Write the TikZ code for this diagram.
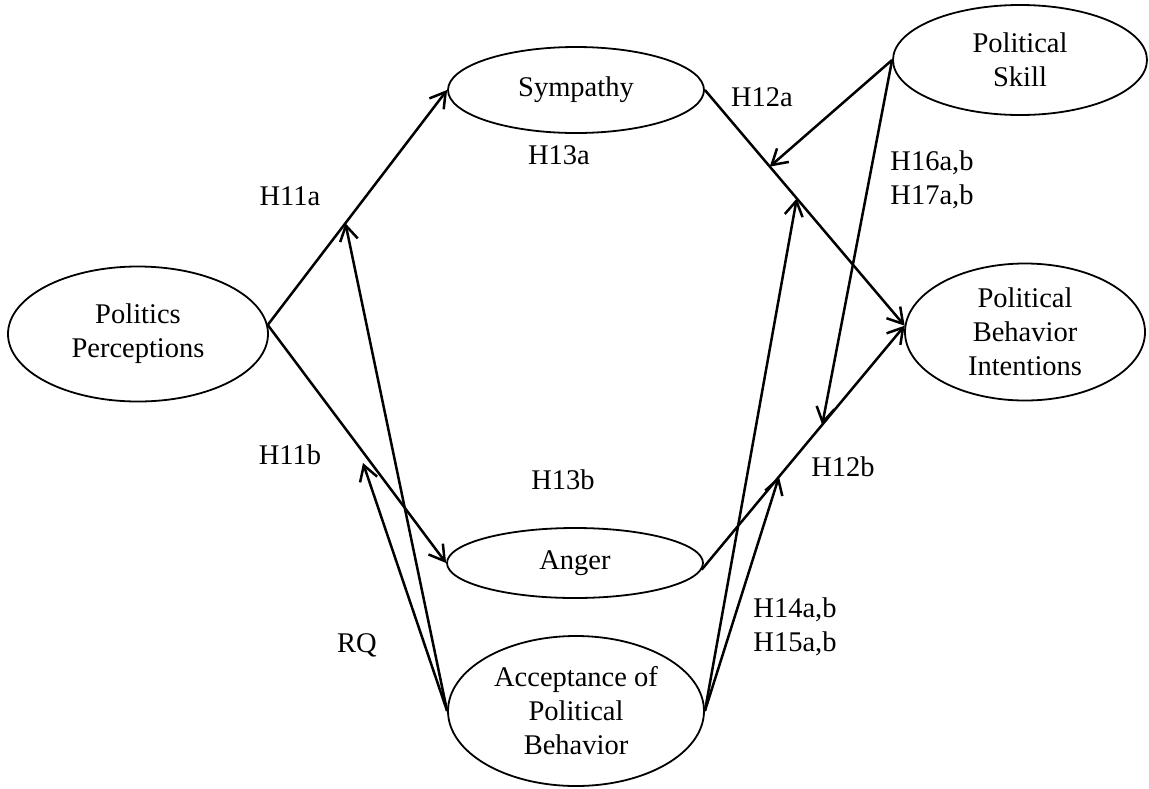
\documentclass[tikz,border=0pt]{standalone}
\usepackage{fontspec}
\setmainfont{Liberation Serif}
\usetikzlibrary{shapes.geometric,arrows.meta,calc}

\tikzset{
  construct/.style={draw, ellipse, line width=1.8pt, inner sep=0pt, align=center,
    font=\fontsize{28.5}{34}\selectfont},
  path/.style={line width=2.5pt, -{Straight Barb[length=15pt,width=18pt,line width=2.5pt]}},
  lbl/.style={font=\fontsize{28.5}{34}\selectfont, align=left, inner sep=0pt}
}

\begin{document}
\begin{tikzpicture}[x=1pt,y=-1pt]
\useasboundingbox (0,0) rectangle (1149,788);

% constructs
\node[construct, minimum width=260pt, minimum height=135pt] (pp)    at (138,334) {Politics\\Perceptions};
\node[construct, minimum width=256pt, minimum height=86pt]  (sym)   at (576,90)  {Sympathy};
\node[construct, minimum width=256pt, minimum height=70pt]  (anger) at (575,563) {Anger};
\node[construct, minimum width=256pt, minimum height=150pt] (acc)   at (576,711) {Acceptance of\\Political\\Behavior};
\node[construct, minimum width=254pt, minimum height=110pt] (ps)    at (1020,60) {Political\\Skill};
\node[construct, minimum width=240pt, minimum height=137pt] (pbi)   at (1025,332) {Political\\Behavior\\Intentions};

% points on the paths where moderators meet them
\coordinate (a1) at ($(pp.4)!0.433!(sym.west)$);
\coordinate (b1) at ($(sym.east)!0.325!(pbi.177)$);
\coordinate (b2) at ($(sym.east)!0.46!(pbi.177)$);
\coordinate (c1) at ($(anger.-3)!0.381!(pbi.177)$);
\coordinate (c2) at ($(anger.-3)!0.594!(pbi.177)$);
\coordinate (rq) at (363,463);

% main paths
\draw[path] (pp.4) -- (sym.west);
\draw[path] (pp.4) -- (anger.west);
\draw[path] (sym.east) -- (pbi.177);
\draw[path] (anger.-3) -- (pbi.177);

% moderating paths
\draw[path] (acc.west) -- (a1);
\draw[path] (acc.west) -- (rq);
\draw[path] (acc.east) -- (b2);
\draw[path] (acc.east) -- (c1);
\draw[path] (ps.west) -- (b1);
\draw[path] (ps.west) -- (c2);

% hypothesis labels
\node[lbl] (h11a) at (290,196) {H11a};
\node[lbl] (h11b) at (290,455) {H11b};
\node[lbl] (h13a) at (559,155) {H13a};
\node[lbl] (h13b) at (563,480) {H13b};
\node[lbl] (h12a) at (762,97)  {H12a};
\node[lbl] (h12b) at (843,467) {H12b};
\node[lbl] (h16)  at (932,180) {H16a,b\\H17a,b};
\node[lbl] (h14)  at (795,627) {H14a,b\\H15a,b};
\node[lbl] (rqlbl) at (357,645) {RQ};
\end{tikzpicture}
\end{document}
